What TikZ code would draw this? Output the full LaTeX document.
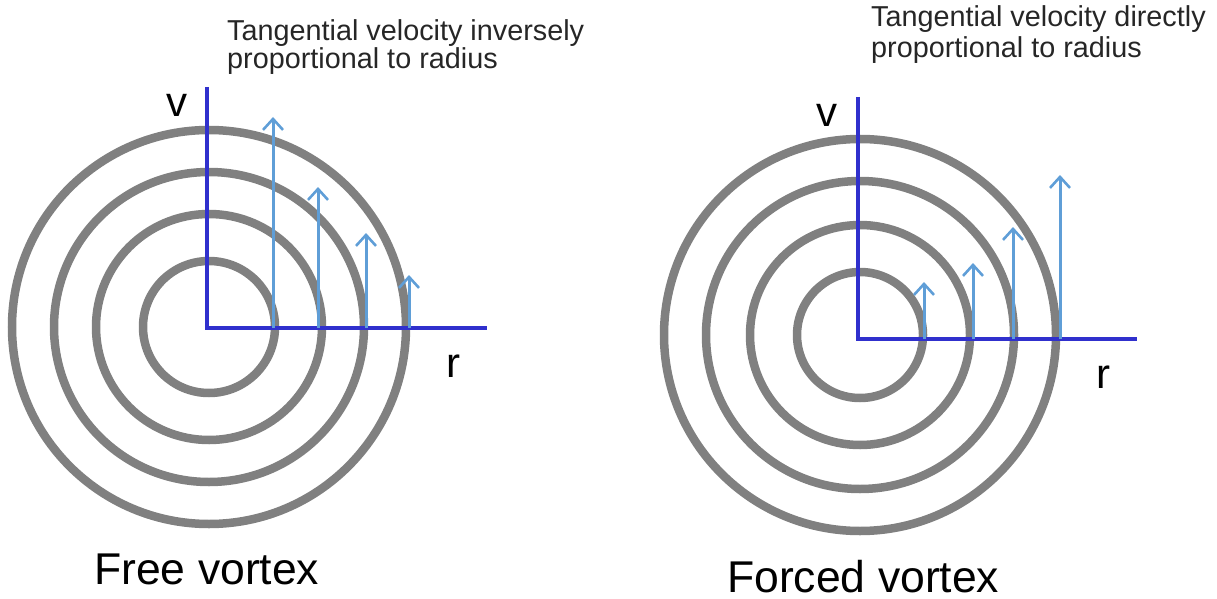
\documentclass[tikz,border=0pt]{standalone}
\usepackage{fontspec}
\setmainfont{Liberation Sans}
\usetikzlibrary{arrows.meta}
\definecolor{ringgray}{RGB}{128,128,128}
\definecolor{axisblue}{RGB}{48,48,205}
\definecolor{velblue}{RGB}{95,158,215}
\begin{document}
\begin{tikzpicture}[x=1pt,y=-1pt,
  ring/.style={draw=ringgray,line width=8.5pt},
  axisline/.style={draw=axisblue,line width=4pt},
  velarrow/.style={draw=velblue,line width=3pt,-{Straight Barb[length=11pt,width=20pt,line width=2.6pt]}},
  toptext/.style={inner sep=0pt,anchor=base west,font=\fontsize{28.8}{30}\selectfont,text=black!85},
  axlabel/.style={inner sep=0pt,anchor=base,font=\fontsize{42}{44}\selectfont},
  caption/.style={inner sep=0pt,anchor=base west,font=\fontsize{44.5}{46}\selectfont}]
\useasboundingbox (0,0) rectangle (1217,599);
% ---------------- left: free vortex ----------------
\coordinate (c1) at (209,327);
\foreach \r in {66,113,155,197} \draw[ring] (c1) circle (\r);
\coordinate (o1) at (207,328);
\coordinate (v1) at (207,87);
\coordinate (r1) at (487,328);
\draw[axisline] (v1) -- (o1) -- (r1);
\foreach \x/\t [count=\i] in {273/117,318/187,366/233,409/275}{
  \coordinate (a\i b) at (\x,328);
  \coordinate (a\i t) at (\x,\t);
  \draw[velarrow] (a\i b) -- (a\i t);
}
\node[axlabel] (lv1) at (177,117) {v};
\node[axlabel] (lr1) at (453,377) {r};
\node[toptext] (t1a) at (227,41) {Tangential velocity inversely};
\node[toptext] (t1b) at (227,69) {proportional to radius};
\node[caption] (cap1) at (94,584) {Free vortex};
% ---------------- right: forced vortex ----------------
\coordinate (c2) at (860,335);
\foreach \r in {63,110,154,196} \draw[ring] (c2) circle (\r);
\coordinate (o2) at (858,339);
\coordinate (v2) at (858,97);
\coordinate (r2) at (1137,339);
\draw[axisline] (v2) -- (o2) -- (r2);
\foreach \x/\t [count=\i] in {924/282,973/263,1013/227,1060/175}{
  \coordinate (b\i b) at (\x,339);
  \coordinate (b\i t) at (\x,\t);
  \draw[velarrow] (b\i b) -- (b\i t);
}
\node[axlabel] (lv2) at (827,126) {v};
\node[axlabel] (lr2) at (1103,388) {r};
\node[toptext] (t2a) at (871,27) {Tangential velocity directly};
\node[toptext] (t2b) at (871,58) {proportional to radius};
\node[caption] (cap2) at (727,592) {Forced vortex};
\end{tikzpicture}
\end{document}
